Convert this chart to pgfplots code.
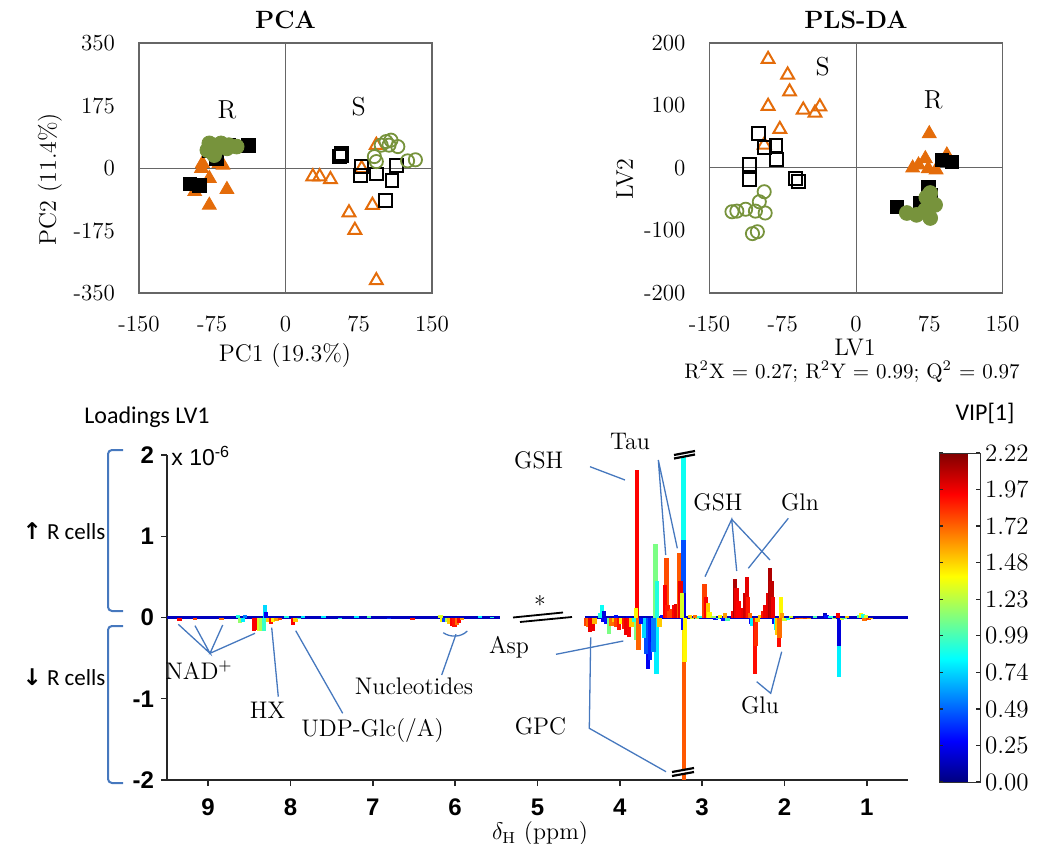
\documentclass[border=0pt]{standalone}
\usepackage{pgfplots}
\usepackage{pgfplotstable}
\pgfplotsset{compat=1.18}
\usepackage{fontspec}
\newfontfamily\lsans{Liberation Sans}
\newfontfamily\carl{Carlito}
\newfontfamily\dejavu{DejaVu Sans}

\definecolor{xorange}{RGB}{228,108,10}
\definecolor{xgreen}{RGB}{119,147,60}
\definecolor{annot}{RGB}{70,120,190}
\definecolor{basebl}{RGB}{0,0,190}

% scores: x y
\pgfplotstableread{
x y
-85 13
-68 13
-78 -29
-60 -60
-93 -66
-78 -104
-86 -1
-64 8
}\pcaRtri
\pgfplotstableread{
x y
-98 -45
-88 -48
-38 64
-58 64
-71 27
-78 50
-61 64
}\pcaRsq
\pgfplotstableread{
x y
-74 64
-66 69
-58 64
-50 60
-80 50
-73 36
-60 55
-78 69
}\pcaRci
\pgfplotstableread{
x y
57 41
55 32
57 35
78 4
77 -20
93 -17
114 6
109 -34
102 -90
}\pcaSsq
\pgfplotstableread{
x y
28 -24
35 -24
46 -32
93 64
78 -1
89 -104
65 -125
71 -174
93 -315
}\pcaStri
\pgfplotstableread{
x y
103 74
108 78
115 60
98 64
125 20
133 23
93 18
91 32
106 64
}\pcaSci

\pgfplotstableread{
x y
-90 174
-70 149
-68 122
-90 99
-54 93
-42 88
-37 98
-78 62
-94 37
}\plsStri
\pgfplotstableread{
x y
-100 55
-94 33
-82 36
-81 13
-109 6
-109 -19
-62 -17
-59 -21
}\plsSsq
\pgfplotstableread{
x y
-94 -38
-99 -54
-113 -66
-122 -69
-127 -70
-103 -69
-93 -72
-101 -102
-106 -105
}\plsSci
\pgfplotstableread{
x y
75 55
64 5
71 15
82 -3
93 21
74 -1
58 0
}\plsRtri
\pgfplotstableread{
x y
88 13
98 10
74 -31
76 -43
42 -62
66 -56
}\plsRsq
\pgfplotstableread{
x y
76 -40
81 -59
62 -75
52 -72
76 -80
71 -67
72 -47
}\plsRci

% loadings: ppm, loading (x 1e-6), VIP
\pgfplotstableread{
x v c
9.35 -0.045 1.95
9.16 -0.035 1.80
8.84 -0.035 1.70
8.64 0.03 0.90
8.61 -0.07 1.15
8.58 -0.05 0.80
8.55 0.03 0.55
8.44 -0.16 1.95
8.41 -0.15 1.95
8.38 -0.16 1.30
8.35 -0.16 1.20
8.32 -0.17 0.95
8.31 0.15 0.75
8.30 0.07 0.25
8.27 -0.06 1.50
8.24 -0.08 1.90
8.21 -0.05 1.40
8.17 -0.04 1.60
8.13 -0.03 1.80
8.05 0.02 0.90
7.97 -0.09 1.95
7.94 -0.06 1.50
7.90 -0.02 1.00
7.85 0.02 0.80
7.60 0.015 0.80
7.40 -0.015 0.90
7.20 0.015 0.80
7.05 0.015 1.00
6.80 -0.015 0.40
6.52 -0.03 1.90
6.18 0.03 1.30
6.16 -0.05 1.40
6.13 -0.06 0.40
6.10 -0.05 1.20
6.07 -0.08 1.50
6.04 -0.10 1.95
6.01 -0.12 1.90
5.98 -0.09 1.70
5.95 -0.07 1.95
5.92 -0.03 1.60
5.70 0.015 0.80
5.55 0.01 0.90
3.225 2.00 0.86
3.220 -2.00 1.75
3.225 0.95 0.45
3.225 0.30 0.20
3.222 -0.55 1.45
3.225 -0.15 0.30
3.205 -0.55 1.40
3.79 1.81 1.94
3.80 0.12 1.40
3.80 -0.28 1.10
3.775 -0.40 1.72
3.565 0.90 1.10
3.55 0.45 0.90
3.555 -0.69 0.80
3.655 -0.63 0.25
3.63 -0.52 0.35
3.61 -0.30 0.30
3.59 -0.42 0.55
3.68 -0.45 0.45
3.71 -0.25 0.75
3.74 -0.08 0.30
3.52 -0.12 1.50
3.48 0.03 0.30
3.435 0.735 1.78
3.45 0.40 1.95
3.42 0.15 1.90
3.40 0.08 1.80
3.37 0.10 1.80
3.34 0.15 1.95
3.31 0.17 2.00
3.28 0.80 1.75
3.265 0.45 1.98
3.245 0.30 1.30
4.41 -0.10 1.80
4.39 -0.12 1.70
4.36 -0.18 1.98
4.33 -0.17 1.98
4.31 -0.08 1.55
4.24 0.06 0.90
4.22 0.15 0.85
4.20 -0.05 0.25
4.19 0.08 0.20
4.16 -0.08 0.30
4.13 -0.20 1.10
4.10 -0.10 1.70
4.07 -0.06 1.50
4.05 0.03 0.30
4.04 -0.12 1.80
4.01 -0.15 1.90
3.98 -0.08 1.40
3.95 -0.14 1.90
3.92 -0.22 1.98
3.89 -0.24 1.95
3.90 0.02 0.20
3.86 -0.12 1.50
3.83 -0.06 0.90
3.15 0.03 1.50
3.12 -0.02 1.30
3.09 0.03 1.70
3.06 -0.02 1.20
3.03 0.02 0.90
2.97 0.41 1.80
2.955 0.25 1.95
2.93 0.18 1.50
2.91 0.07 1.40
2.86 0.02 1.20
2.84 -0.03 0.30
2.81 -0.02 1.00
2.78 0.03 1.40
2.75 -0.04 0.30
2.72 0.05 1.60
2.69 -0.04 1.00
2.62 0.08 1.95
2.60 0.47 2.12
2.585 0.36 1.98
2.56 0.20 1.95
2.50 0.12 1.98
2.48 0.30 2.05
2.455 0.50 2.00
2.44 0.25 1.90
2.42 0.06 1.70
2.41 -0.08 0.30
2.39 -0.10 0.80
2.36 -0.69 1.92
2.345 -0.35 1.85
2.33 -0.05 1.50
2.29 0.03 1.50
2.26 0.08 1.90
2.23 0.15 1.98
2.20 0.30 2.00
2.175 0.61 2.12
2.16 0.45 2.08
2.14 0.25 1.98
2.12 -0.08 0.30
2.105 -0.15 0.85
2.085 -0.22 1.50
2.07 -0.36 1.92
2.06 -0.25 1.70
2.045 0.25 1.40
2.03 0.05 1.60
2.00 -0.04 1.30
1.96 -0.03 0.90
1.92 0.02 1.30
1.85 -0.02 1.80
1.80 -0.02 1.70
1.75 -0.015 1.80
1.70 -0.02 1.60
1.63 0.015 1.00
1.51 0.05 0.15
1.49 0.03 0.30
1.44 0.02 0.90
1.40 -0.02 1.20
1.35 0.06 1.95
1.335 -0.73 0.80
1.335 -0.35 0.20
1.30 -0.03 1.30
1.27 -0.02 1.00
1.24 0.02 1.50
1.09 0.03 1.00
1.07 0.06 1.40
1.05 0.04 0.90
1.03 -0.04 1.70
1.01 0.03 1.30
0.98 -0.03 1.80
0.95 -0.02 1.50
}\spec

\pgfplotsset{
  score/.style={
    scale only axis, width=146.5pt, height=125pt, anchor=south west,
    xmin=-150, xmax=150,
    xtick={-150,-75,0,75,150}, xticklabels={-150,-75,0,75,150},
    major tick length=0pt,
    axis line style={black!60, line width=0.6pt},
    tick label style={font=\fontsize{11.5}{13}\selectfont},
    xticklabel style={yshift=-8pt},
    yticklabel style={xshift=-8.5pt},
    clip=false,
  },
  Rtri/.style={only marks, mark=triangle*, mark size=4pt, color=xorange},
  Stri/.style={only marks, mark=triangle, mark size=3.7pt, color=xorange, mark options={line width=1pt}},
  Rsq/.style={only marks, mark=square*, mark size=3.4pt, color=black},
  Ssq/.style={only marks, mark=square, mark size=3.2pt, color=black, mark options={line width=1pt}},
  Rci/.style={only marks, mark=*, mark size=3.7pt, color=xgreen},
  Sci/.style={only marks, mark=o, mark size=3.3pt, color=xgreen, mark options={line width=0.9pt}},
}

\begin{document}
\begin{tikzpicture}

% ---- PCA
\begin{axis}[score, at={(69.5pt,-146.5pt)},
  ymin=-350, ymax=350,
  ytick={-350,-175,0,175,350}, yticklabels={-350,-175,0,175,350}]
\draw[black!60, line width=0.5pt] (axis cs:0,-350) -- (axis cs:0,350);
\draw[black!60, line width=0.5pt] (axis cs:-150,0) -- (axis cs:150,0);
\addplot[Stri] table {\pcaStri};
\addplot[Ssq] table {\pcaSsq};
\addplot[Sci] table {\pcaSci};
\addplot[Rtri] table {\pcaRtri};
\addplot[Rsq] table {\pcaRsq};
\addplot[Rci] table {\pcaRci};
\node[font=\fontsize{13}{15}\selectfont] at (axis cs:-60,162) {R};
\node[font=\fontsize{13}{15}\selectfont] at (axis cs:75,172) {S};
\end{axis}

% ---- PLS-DA
\begin{axis}[score, at={(354.75pt,-146.5pt)},
  ymin=-200, ymax=200,
  ytick={-200,-100,0,100,200}, yticklabels={-200,-100,0,100,200}]
\draw[black!60, line width=0.5pt] (axis cs:0,-200) -- (axis cs:0,200);
\draw[black!60, line width=0.5pt] (axis cs:-150,0) -- (axis cs:150,0);
\addplot[Stri] table {\plsStri};
\addplot[Ssq] table {\plsSsq};
\addplot[Sci] table {\plsSci};
\addplot[Rtri] table {\plsRtri};
\addplot[Rsq] table {\plsRsq};
\addplot[Rci] table {\plsRci};
\node[font=\fontsize{13}{15}\selectfont] at (axis cs:-34,162) {S};
\node[font=\fontsize{13}{15}\selectfont] at (axis cs:79,109) {R};
\end{axis}

% ---- Loadings LV1
\begin{axis}[
  scale only axis, width=370.5pt, height=162.5pt,
  at={(83.5pt,-390pt)}, anchor=south west,
  xmin=-9.5, xmax=-0.5, ymin=-2, ymax=2,
  axis x line=bottom, axis y line=left,
  axis line style={-, line width=0.8pt, black!85},
  xtick={-9,-8,-7,-6,-5,-4,-3,-2,-1}, xticklabels={9,8,7,6,5,4,3,2,1},
  ytick={-2,-1,0,1,2}, yticklabels={-2,-1,0,1,2},
  tick align=outside, major tick length=3pt,
  tick style={black!85, line width=0.7pt},
  tick label style={font=\lsans\bfseries\fontsize{12}{13}\selectfont},
  xticklabel style={yshift=-3pt},
  colormap/jet, point meta min=0, point meta max=2.22,
  colorbar,
  colorbar style={
    scale only axis, width=20.5pt, height=164.5pt,
    at={(parent axis.north east)}, anchor=north west, xshift=7pt, yshift=1pt,
    ytick={0,0.24667,0.49333,0.74,0.98667,1.23333,1.48,1.72667,1.97333,2.22},
    yticklabels={0.00,0.25,0.49,0.74,0.99,1.23,1.48,1.72,1.97,2.22},
    yticklabel style={font=\fontsize{12.5}{13}\selectfont, xshift=-1pt},
    major tick length=2pt,
    axis line style={black!80},
  },
]
\addplot[draw=basebl, line width=1.5pt, forget plot] coordinates {(-9.5,0) (-5.46,0)};
\addplot[draw=basebl, line width=1.5pt, forget plot] coordinates {(-4.42,0) (-0.5,0)};
\addplot[quiver={u=0, v=\thisrow{v}, colored=mapped color},
  point meta=\thisrow{c}, line width=2.2pt, forget plot]
  table[x expr=-\thisrow{x}, y expr=0] {\spec};
\end{axis}

% ---- annotations, in pixel units of the reference
\begin{scope}[x=0.5pt, y=-0.5pt]
\node[font=\bfseries\fontsize{12.5}{14}\selectfont] at (285.5,20) {PCA};
\node[font=\bfseries\fontsize{12.5}{14}\selectfont] at (856,20) {PLS-DA};
\node[font=\fontsize{12}{14}\selectfont] at (285,356) {PC1 (19.3\%)};
\node[font=\fontsize{12}{14}\selectfont, rotate=90] at (50,179) {PC2 (11.4\%)};
\node[font=\fontsize{12}{14}\selectfont, inner sep=0pt] at (855,348) {LV1};
\node[font=\fontsize{10.5}{12}\selectfont, inner sep=0pt] at (852,372)
  {R\textsuperscript{2}X = 0.27; R\textsuperscript{2}Y = 0.99; Q\textsuperscript{2} = 0.97};
\node[font=\fontsize{12}{14}\selectfont, rotate=90] at (625,179) {LV2};

\node[font=\carl\fontsize{12}{14}\selectfont] at (147,417) {Loadings LV1};
\node[font=\carl\fontsize{12}{14}\selectfont] at (985,413) {VIP[1]};
\node[font=\carl\fontsize{11.5}{14}\selectfont] at (64,531) {{\dejavu\bfseries ↑} R cells};
\node[font=\carl\fontsize{11.5}{14}\selectfont] at (64,677) {{\dejavu\bfseries ↓} R cells};
\node[font=\lsans\fontsize{11.5}{13}\selectfont, anchor=west, inner sep=0pt] at (171,456) {x 10\textsuperscript{-6}};

\draw[annot, line width=1pt, rounded corners=2pt] (123,450) -- (108,450) -- (108,611) -- (123,611);
\draw[annot, line width=1pt, rounded corners=2pt] (123,626) -- (108,626) -- (108,783) -- (123,783);

\node[font=\fontsize{12}{14}\selectfont] at (540,834) {$\delta_{\mathrm{H}}$ (ppm)};

% axis breaks
\draw[line width=0.9pt] (513,617.5) -- (563,612.5);
\draw[line width=0.9pt] (520,622) -- (572,617);
\node[font=\fontsize{12}{14}\selectfont] at (540,604) {*};
\fill[white] (674,455.5) -- (695,451.5) -- (695,454) -- (674,458) -- cycle;
\draw[line width=1.1pt] (674,455) -- (695,451);
\draw[line width=1.1pt] (674,458.5) -- (695,454.5);
\fill[white] (672,772.5) -- (694,768.5) -- (694,771) -- (672,775) -- cycle;
\draw[line width=1.1pt] (672,772) -- (694,768);
\draw[line width=1.1pt] (672,776) -- (694,772);

% metabolite labels
\begin{scope}[font=\fontsize{12}{14}\selectfont]
\node at (538.7,460) {GSH};
\node at (630,441) {Tau};
\node at (718,502) {GSH};
\node at (800,502) {Gln};
\node at (760,705) {Glu};
\node at (509,647) {Asp};
\node at (540.5,726) {GPC};
\node at (199,670) {NAD\textsuperscript{+}};
\node at (267.5,710) {HX};
\node at (372.5,731) {UDP-Glc(/A)};
\node at (414,686.5) {Nucleotides};
\end{scope}

\begin{scope}[annot, line width=0.65pt]
\draw (590,466.7) -- (625,480);
\draw (677.3,548.3) -- (658.3,460) -- (665.7,555);
\draw (705,576.7) -- (731.7,519.3) -- (736.7,571);
\draw (731.7,519.3) -- (770,560);
\draw (788.3,518.3) -- (748.3,568.3);
\draw (756.7,681.7) -- (770.7,693.3) -- (781.7,651.7);
\draw (556,654.3) -- (623.3,641);
\draw (590.7,637.3) -- (589.3,728.3) -- (666,771.7);
\draw (178.3,624.3) -- (210,653.3) -- (195,625.7);
\draw (222.7,625) -- (210,653.3) -- (255,633.3);
\draw (278.3,696.7) -- (271.7,627.7);
\draw (342.7,713.3) -- (295.7,630.7);
\draw (441.7,675) -- (456,634.3);
\draw (443.3,632.7) .. controls (450,637.5) and (461,637.5) .. (467.3,631);
\end{scope}
\end{scope}

\pgfresetboundingbox
\path[use as bounding box] (0,0) rectangle (519pt,-422pt);
\end{tikzpicture}
\end{document}
